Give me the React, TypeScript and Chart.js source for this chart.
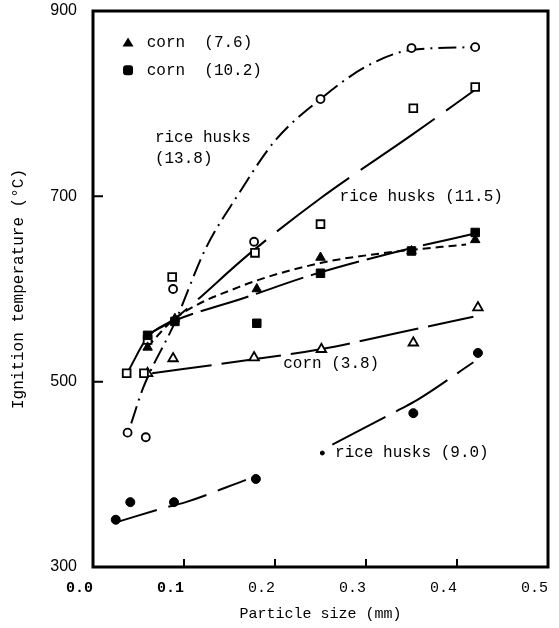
import React, { useEffect, useRef } from "react";
import { Chart, registerables } from "chart.js";
Chart.register(...registerables);

// ---------- axes ----------
const xTicks = [0, 0.1, 0.2, 0.3, 0.4, 0.5];
const yTicks = [300, 500, 700, 900];

// ---------- measured points ----------
const corn76X = [0.06, 0.09, 0.18, 0.25, 0.35, 0.42];
const corn76Y = [537, 568, 600, 634, 641, 653];
const corn102X = [0.06, 0.09, 0.18, 0.25, 0.35, 0.42];
const corn102Y = [550, 565, 563, 617, 641, 661];
const rice138X = [0.038, 0.058, 0.088, 0.177, 0.25, 0.35, 0.42];
const rice138Y = [445, 440, 600, 651, 805, 860, 861];
const rice115X = [0.037, 0.056, 0.06, 0.087, 0.178, 0.25, 0.352, 0.42];
const rice115Y = [509, 509, 545, 613, 639, 670, 795, 818];
const corn38X = [0.06, 0.088, 0.177, 0.251, 0.352, 0.423];
const corn38Y = [509, 525, 526, 535, 542, 580];
const rice90X = [0.025, 0.041, 0.089, 0.179, 0.352, 0.423];
const rice90Y = [351, 370, 370, 395, 466, 531];
const rice90SmallX = [0.252];
const rice90SmallY = [423];

// ---------- fitted curves ----------
const fit138X = [0.042, 0.055, 0.09, 0.124, 0.159, 0.2, 0.25, 0.3, 0.35, 0.42];
const fit138Y = [455, 493, 564, 644, 701, 760, 805, 840, 858, 861];
const fit115X = [0.038, 0.06, 0.09, 0.173, 0.25, 0.35, 0.42];
const fit115Y = [510, 548, 568, 639, 698, 766, 815];
const fit102X = [0.06, 0.09, 0.165, 0.24, 0.337, 0.42];
const fit102Y = [551, 566, 590, 615, 641, 660];
const fit76X = [0.06, 0.09, 0.16, 0.25, 0.33, 0.41];
const fit76Y = [538, 568, 602, 628, 640, 648];
const fit38X = [0.065, 0.161, 0.25, 0.337, 0.418];
const fit38Y = [509, 522, 535, 553, 570];
const fit90aX = [0.028, 0.079, 0.102, 0.168];
const fit90aY = [349, 364, 370, 394];
const fit90bX = [0.263, 0.337, 0.356, 0.418];
const fit90bY = [432, 470, 480, 521];

// ---------- annotations ----------
const labelTexts = ["rice husks", "(13.8)", "rice husks (11.5)", "corn (3.8)", "rice husks (9.0)"];
const labelX = [0.068, 0.068, 0.271, 0.209, 0.266];
const labelY = [763, 741, 699, 519, 423];
const legendTexts = ["corn  (7.6)", "corn  (10.2)"];
const legendMarkerX = 0.0385;
const legendTextX = 0.059;
const legendY = [866, 836];

const pts = (xs: number[], ys: number[]) => xs.map((x, i) => ({ x, y: ys[i] }));

const FONT = "'Liberation Mono', 'DejaVu Sans Mono', monospace";

const overlayPlugin = {
  id: "overlay",
  afterDraw(chart: any) {
    const { ctx, chartArea: a, scales } = chart;
    const xs = scales.x;
    const ys = scales.y;
    ctx.save();
    ctx.strokeStyle = "#000";
    ctx.fillStyle = "#000";
    // frame
    ctx.lineWidth = 3;
    ctx.strokeRect(a.left, a.top, a.right - a.left, a.bottom - a.top);
    // inward ticks
    ctx.lineWidth = 2;
    ctx.beginPath();
    for (const v of yTicks) {
      if (v > ys.min && v < ys.max) {
        const py = ys.getPixelForValue(v);
        ctx.moveTo(a.left, py);
        ctx.lineTo(a.left + 10, py);
      }
    }
    for (const v of xTicks) {
      if (v > xs.min + 1e-9 && v < xs.max - 1e-9) {
        const px = xs.getPixelForValue(v);
        ctx.moveTo(px, a.bottom);
        ctx.lineTo(px, a.bottom - 8);
      }
    }
    ctx.stroke();
    // labels
    ctx.font = `16px ${FONT}`;
    ctx.textBaseline = "middle";
    ctx.textAlign = "left";
    labelTexts.forEach((t, i) => {
      ctx.fillText(t, xs.getPixelForValue(labelX[i]), ys.getPixelForValue(labelY[i]));
    });
    // legend
    legendTexts.forEach((t, i) => {
      const mx = xs.getPixelForValue(legendMarkerX);
      const my = ys.getPixelForValue(legendY[i]);
      ctx.beginPath();
      if (i === 0) {
        ctx.moveTo(mx, my - 5);
        ctx.lineTo(mx + 5.5, my + 4);
        ctx.lineTo(mx - 5.5, my + 4);
        ctx.closePath();
      } else {
        ctx.roundRect(mx - 5, my - 5, 10, 10, 3);
      }
      ctx.fill();
      ctx.fillText(t, xs.getPixelForValue(legendTextX), my);
    });
    ctx.restore();
  },
};

export default function App() {
  const ref = useRef<HTMLCanvasElement | null>(null);
  useEffect(() => {
    if (!ref.current) return;
    Chart.defaults.font.family = FONT;
    Chart.defaults.color = "#000";
    const lineDs = (xs: number[], ys: number[], dash: number[]) => ({
      data: pts(xs, ys),
      showLine: true,
      pointRadius: 0,
      borderColor: "#000",
      borderWidth: 2,
      borderDash: dash,
      cubicInterpolationMode: "monotone",
      fill: false,
    });
    const markDs = (xs: number[], ys: number[], style: string, r: number, filled: boolean, bw = 1.8) => ({
      data: pts(xs, ys),
      showLine: false,
      pointStyle: style,
      pointRadius: r,
      pointBackgroundColor: filled ? "#000" : "#fff",
      pointBorderColor: "#000",
      pointBorderWidth: bw,
    });
    const chart = new Chart(ref.current, {
      type: "scatter",
      data: {
        datasets: [
          markDs(corn102X, corn102Y, "rect", 6, true, 1),
          markDs(corn76X, corn76Y, "triangle", 5.5, true, 1),
          markDs(rice138X, rice138Y, "circle", 4, false),
          markDs(rice115X, rice115Y, "rect", 5.5, false),
          markDs(corn38X, corn38Y, "triangle", 5.5, false),
          markDs(rice90X, rice90Y, "circle", 4.5, true, 1),
          markDs(rice90SmallX, rice90SmallY, "circle", 2, true, 1),
          lineDs(fit138X, fit138Y, [18, 6, 2, 6]),
          lineDs(fit115X, fit115Y, [90, 14]),
          lineDs(fit102X, fit102Y, [50, 8]),
          lineDs(fit76X, fit76Y, [8, 5]),
          lineDs(fit38X, fit38Y, [60, 10]),
          lineDs(fit90aX, fit90aY, [40, 12]),
          lineDs(fit90bX, fit90bY, [60, 12]),
        ] as any,
      },
      options: {
        responsive: false,
        animation: false,
        layout: { padding: { top: 11, right: 11, left: 0, bottom: 0 } },
        plugins: { legend: { display: false }, tooltip: { enabled: false } },
        scales: {
          x: {
            type: "linear",
            min: 0,
            max: 0.5,
            grid: { display: false, drawTicks: false },
            border: { display: false },
            afterBuildTicks: (s: any) => {
              s.ticks = xTicks.map((v) => ({ value: v }));
            },
            afterFit: (s: any) => {
              s.height = 61;
              s.paddingLeft = 0;
              s.paddingRight = 0;
            },
            ticks: {
              align: "end",
              padding: 12,
              color: "#000",
              font: (c: any) => ({
                family: FONT,
                size: 15,
                weight: c.tick && c.tick.value <= 0.1 + 1e-9 ? "bold" : "normal",
              }),
              callback: (v: any) => Number(v).toFixed(1),
            },
            title: {
              display: true,
              text: "Particle size (mm)",
              color: "#000",
              font: { family: FONT, size: 15 },
              padding: { top: 0, bottom: 5 },
            },
          },
          y: {
            type: "linear",
            min: 300,
            max: 900,
            grid: { display: false, drawTicks: false },
            border: { display: false },
            afterBuildTicks: (s: any) => {
              s.ticks = yTicks.map((v) => ({ value: v }));
            },
            afterFit: (s: any) => {
              s.width = 93;
              s.paddingTop = 0;
              s.paddingBottom = 0;
            },
            ticks: {
              padding: 16,
              color: "#000",
              font: { family: "'Liberation Sans', Arial, sans-serif", size: 16 },
              callback: (v: any) => String(v),
            },
            title: {
              display: true,
              text: "Ignition temperature (°C)",
              color: "#000",
              font: { family: FONT, size: 16 },
              padding: { top: 9, bottom: 0 },
            },
          },
        },
      } as any,
      plugins: [overlayPlugin],
    });
    return () => chart.destroy();
  }, []);
  return (
    <div style={{ position: "fixed", left: 0, top: 0, width: 559, height: 628, background: "#fff" }}>
      <canvas ref={ref} width={559} height={628} style={{ display: "block" }} />
    </div>
  );
}
